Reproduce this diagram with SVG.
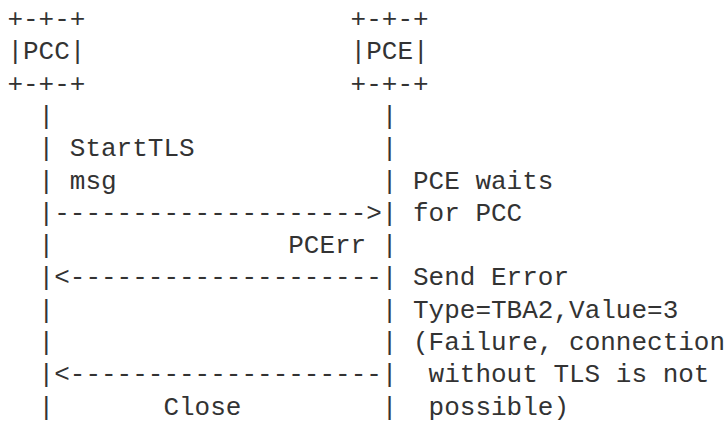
<svg xmlns="http://www.w3.org/2000/svg" width="728" height="423" viewBox="0 0 728 423">
<style>
text { font-family: "Liberation Mono", "DejaVu Sans Mono", monospace; font-size: 26px; fill: #333333; white-space: pre; }
</style>
<rect width="728" height="423" fill="#ffffff"/>
<g id="pcc">
<text x="7.4" y="27">+-+-+</text>
<text x="7.4" y="59.3">|PCC|</text>
<text x="7.4" y="91.6">+-+-+</text>
</g>
<g id="pce">
<text x="350.6" y="27">+-+-+</text>
<text x="350.6" y="59.3">|PCE|</text>
<text x="350.6" y="91.6">+-+-+</text>
</g>
<g id="connectors">
<text x="38.6" y="123.9">|</text><text x="381.8" y="123.9">|</text>
<text x="38.6" y="156.2">|</text><text x="381.8" y="156.2">|</text>
<text x="38.6" y="188.5">|</text><text x="381.8" y="188.5">|</text>
<text x="38.6" y="220.8">|--------------------&gt;|</text>
<text x="38.6" y="253.1">|</text><text x="381.8" y="253.1">|</text>
<text x="38.6" y="285.4">|&lt;--------------------|</text>
<text x="38.6" y="317.7">|</text><text x="381.8" y="317.7">|</text>
<text x="38.6" y="350">|</text><text x="381.8" y="350">|</text>
<text x="38.6" y="382.3">|&lt;--------------------|</text>
<text x="38.6" y="414.6">|</text><text x="381.8" y="414.6">|</text>
</g>
<g id="labels">
<text x="69.8" y="156.2">StartTLS</text>
<text x="69.8" y="188.5">msg</text>
<text x="413" y="188.5">PCE waits</text>
<text x="413" y="220.8">for PCC</text>
<text x="288.2" y="253.1">PCErr</text>
<text x="413" y="285.4">Send Error</text>
<text x="413" y="317.7">Type=TBA2,Value=3</text>
<text x="413" y="350">(Failure, connection</text>
<text x="428.6" y="382.3">without TLS is not</text>
<text x="163.4" y="414.6">Close</text>
<text x="428.6" y="414.6">possible)</text>
</g>
</svg>
